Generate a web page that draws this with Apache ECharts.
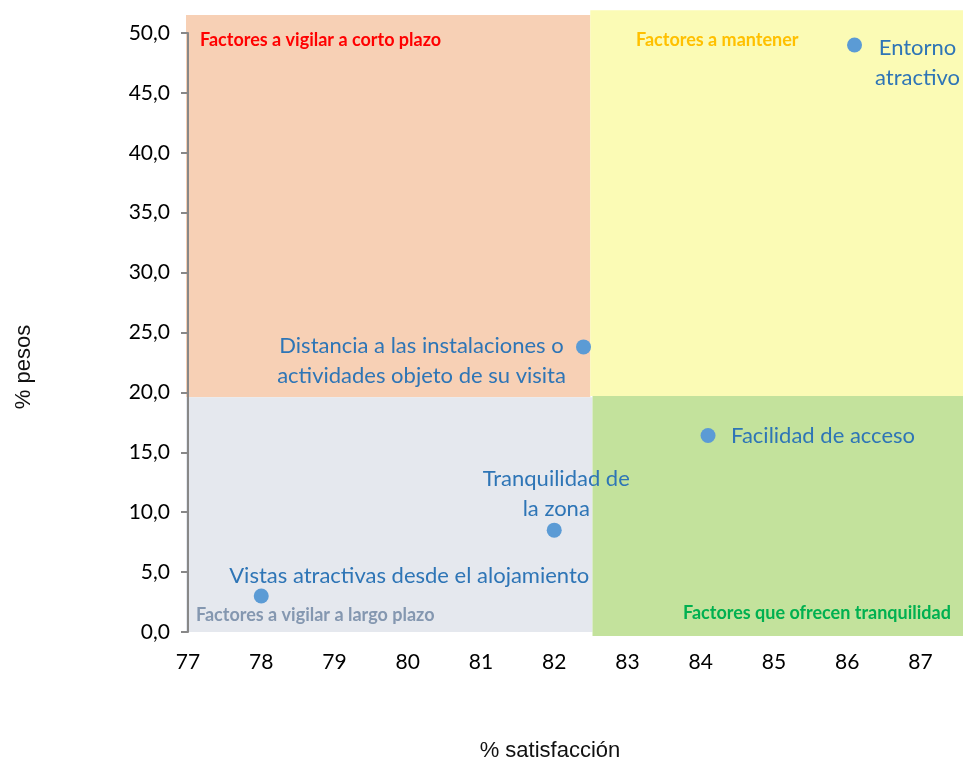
<!DOCTYPE html>
<html>
<head>
<meta charset="utf-8">
<script src="https://cdn.jsdelivr.net/npm/echarts@6/dist/echarts.min.js"></script>
<style>
  html, body { margin: 0; padding: 0; background: #ffffff; }
  #chart { width: 963px; height: 762px; }
</style>
</head>
<body>
<div id="chart"></div>
<script>
// Factores evaluados: satisfacción (%) frente a peso (%)
const factores = [
  'Entorno\natractivo',
  'Distancia a las instalaciones o\nactividades objeto de su visita',
  'Facilidad de acceso',
  'Tranquilidad de\nla zona',
  'Vistas atractivas desde el alojamiento'
];
const satisfaccion = [86.1, 82.4, 84.1, 82.0, 78.0];
const pesos = [49.0, 23.8, 16.4, 8.5, 3.0];

// Cuadrantes de la matriz (límites en unidades de los ejes)
const cuadrantes = [
  'Factores a vigilar a corto plazo',
  'Factores a mantener',
  'Factores a vigilar a largo plazo',
  'Factores que ofrecen tranquilidad'
];
const cuadranteX = [[76.97, 82.47], [82.47, 87.54], [76.97, 82.5], [82.5, 87.54]];
const cuadranteY = [[19.6, 51.5], [19.7, 51.9], [0, 19.6], [-0.33, 19.7]];

// Estilos de cuadrantes
const fondoCuadrante = ['#F7D0B5', '#FBFBB5', '#E5E8EE', '#C3E29C'];
const colorTitulo = ['#FF0000', '#FFC000', '#8497B0', '#00B050'];
const posTitulo = [[200, 40], [636, 40], [196, 615], [683, 613]];

// Desplazamiento de cada etiqueta respecto a su punto (px)
const desplazEtiqueta = [[63, 18], [-162, 14], [115, 0], [2, -36], [148, -20]];

const chart = echarts.init(document.getElementById('chart'), null, { renderer: 'canvas' });

const fmtComa = v => v.toFixed(1).replace('.', ',');

const puntos = satisfaccion.map((s, i) => ({
  value: [s, pesos[i]],
  name: factores[i],
  label: { offset: desplazEtiqueta[i] }
}));

const areas = cuadrantes.map((t, i) => ([
  { coord: [cuadranteX[i][0], cuadranteY[i][0]], itemStyle: { color: fondoCuadrante[i] } },
  { coord: [cuadranteX[i][1], cuadranteY[i][1]] }
]));

const option = {
  backgroundColor: '#ffffff',
  animation: false,
  grid: [
    { left: 188, right: 0, top: 33, bottom: 130 },
    { left: 186, right: 0, top: 9.04, bottom: 118 }
  ],
  xAxis: [
    {
      gridIndex: 0, type: 'value', min: 77, max: 87.54, interval: 1,
      axisLine: { show: false }, axisTick: { show: false }, splitLine: { show: false },
      axisLabel: {
        margin: 20, color: '#000000', fontFamily: 'Lato', fontSize: 21,
        formatter: v => (Math.abs(v - Math.round(v)) < 1e-6 ? String(Math.round(v)) : '')
      }
    },
    { gridIndex: 1, type: 'value', min: 76.97, max: 87.54, show: false }
  ],
  yAxis: [
    {
      gridIndex: 0, type: 'value', min: 0, max: 50, interval: 5, z: 5,
      axisLine: { show: true, lineStyle: { color: '#888888', width: 2 } },
      axisTick: { show: true, length: 7, lineStyle: { color: '#888888', width: 2 } },
      splitLine: { show: false },
      axisLabel: { margin: 18, color: '#000000', fontFamily: 'Lato', fontSize: 21, formatter: fmtComa }
    },
    { gridIndex: 1, type: 'value', min: -1, max: 52, show: false }
  ],
  graphic: cuadrantes.map((t, i) => ({
    type: 'text', z: 10, x: posTitulo[i][0], y: posTitulo[i][1],
    style: {
      text: t, fill: colorTitulo[i], font: 'bold 18px Lato',
      textAlign: 'left', textVerticalAlign: 'middle'
    }
  })).concat([
    {
      type: 'text', z: 10, x: 550, y: 751,
      style: { text: '% satisfacción', fill: '#111111', font: '22px "Liberation Sans"', textAlign: 'center', textVerticalAlign: 'middle' }
    },
    {
      type: 'text', z: 10, x: 24, y: 367, rotation: Math.PI / 2,
      style: { text: '% pesos', fill: '#111111', font: '22px "Liberation Sans"', textAlign: 'center', textVerticalAlign: 'middle' }
    }
  ]),
  series: [
    {
      type: 'scatter', xAxisIndex: 1, yAxisIndex: 1, z: 0, silent: true,
      data: [],
      markArea: { silent: true, data: areas }
    },
    {
      type: 'scatter', xAxisIndex: 0, yAxisIndex: 0, z: 6,
      symbolSize: 15,
      itemStyle: { color: '#5B9BD5', opacity: 1 },
      label: {
        show: true, position: 'inside', align: 'center', verticalAlign: 'middle',
        formatter: p => p.name,
        color: '#2E75B6', fontFamily: 'Lato', fontSize: 22, lineHeight: 30
      },
      data: puntos
    }
  ]
};

chart.setOption(option);
</script>
</body>
</html>
